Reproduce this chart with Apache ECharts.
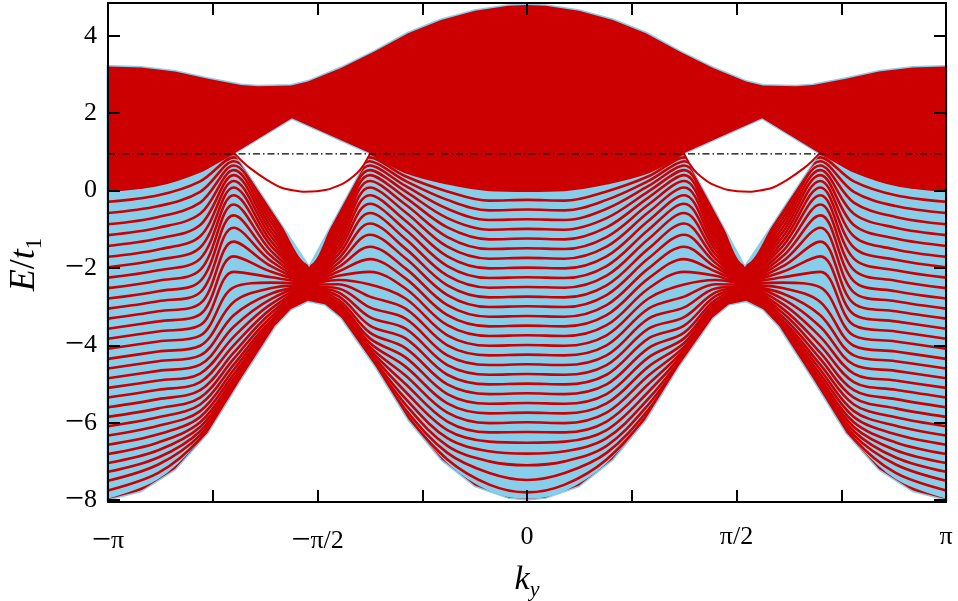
<!DOCTYPE html>
<html>
<head>
<meta charset="utf-8">
<script src="https://cdn.jsdelivr.net/npm/echarts@6/dist/echarts.min.js"></script>
<style>
  html, body { margin: 0; padding: 0; background: #fff; }
  #chart { width: 958px; height: 601px; }
</style>
</head>
<body>
<div id="chart"></div>
<script>
const RED = '#cc0000'
const SKY = '#87ceeb'
const FONT = 'Liberation Serif'

// axes (k_y in units of pi)
const xTickValues = [-1, -0.75, -0.5, -0.25, 0, 0.25, 0.5, 0.75, 1]
const xTickLabels = ['−π', '', '−π/2', '', '0', '', 'π/2', '', 'π']
const yTickValues = [-8, -6, -4, -2, 0, 2, 4]
const yMin = -8.05
const yMax = 4.85
const muLevel = 0.95

const topEdgeK = [-1, -0.921, -0.84, -0.761, -0.683, -0.642, -0.563, -0.523, -0.444, -0.363, -0.284, -0.205, -0.124, -0.045, 0]
const topEdgeE = [3.21, 3.18, 3.08, 2.89, 2.73, 2.70, 2.72, 2.82, 3.17, 3.60, 4.07, 4.41, 4.65, 4.78, 4.80]

const bottomEdgeK = [-1, -0.921, -0.84, -0.761, -0.683, -0.601, -0.563, -0.523, -0.482, -0.444, -0.363, -0.284, -0.205, -0.124, -0.045, 0]
const bottomEdgeE = [-8.0, -7.78, -7.22, -6.27, -4.9, -3.52, -3.08, -2.87, -2.96, -3.30, -4.55, -5.93, -6.96, -7.65, -7.95, -8.0]

// lower edge of the upper (solid red) band
const upperFloorK = [-1, -0.92, -0.833, -0.76, -0.697, -0.561, -0.375, -0.35, -0.311, -0.24, -0.17, -0.1, 0]
const upperFloorE = [0, 0.05, 0.28, 0.58, 0.95, 1.85, 0.95, 0.76, 0.55, 0.32, 0.14, 0.03, 0]

// white gap around the Dirac points
const gapK = [-0.697, -0.561, -0.375, -0.52]
const gapE = [0.95, 1.85, 0.95, -1.95]

// edge state inside the gap
const edgeStateK = [-0.697, -0.68, -0.661, -0.621, -0.582, -0.53, -0.478, -0.438, -0.406, -0.39, -0.375]
const edgeStateE = [0.95, 0.76, 0.58, 0.28, 0.06, -0.03, 0.02, 0.19, 0.45, 0.66, 0.95]

// subbands of the lower band: energy of each line at these k_y
const lineK = [-1, -0.88, -0.78, -0.70, -0.61, -0.52, -0.45, -0.375, -0.29, -0.19, -0.09, 0]
const levelsA = [0.00, -0.29, -0.58, -0.87, -1.15, -1.43, -1.71, -1.98, -2.25, -2.52, -2.79, -3.05, -3.31, -3.57, -3.83, -4.09, -4.35, -4.60, -4.85, -5.10, -5.35, -5.60, -5.85, -6.09, -6.33, -6.57, -6.81, -7.04, -7.27, -7.50, -7.75, -8.00]
const levelsB = [0.15, -0.12, -0.40, -0.68, -0.96, -1.24, -1.52, -1.79, -2.06, -2.33, -2.60, -2.86, -3.12, -3.38, -3.64, -3.90, -4.16, -4.41, -4.66, -4.91, -5.15, -5.39, -5.63, -5.86, -6.08, -6.30, -6.51, -6.71, -6.90, -7.08, -7.30, -7.50]
const levelsC = [0.50, 0.24, -0.03, -0.31, -0.60, -0.89, -1.18, -1.47, -1.76, -2.05, -2.34, -2.63, -2.92, -3.20, -3.48, -3.75, -4.01, -4.26, -4.50, -4.73, -4.95, -5.16, -5.35, -5.53, -5.70, -5.85, -5.99, -6.11, -6.22, -6.32, -6.41, -6.50]
const levelsD = [0.95, 0.86, 0.76, 0.65, 0.53, 0.40, 0.25, 0.08, -0.12, -0.36, -0.64, -0.96, -1.32, -1.70, -2.10, -2.50, -2.88, -3.22, -3.52, -3.78, -4.00, -4.19, -4.35, -4.50, -4.63, -4.75, -4.86, -4.95, -5.03, -5.10, -5.15, -5.20]
const levelsE = [-0.48, -0.60, -0.72, -0.84, -0.96, -1.08, -1.20, -1.32, -1.44, -1.57, -1.70, -1.83, -1.96, -2.10, -2.24, -2.38, -2.52, -2.66, -2.80, -2.93, -3.05, -3.16, -3.26, -3.35, -3.43, -3.50, -3.55, -3.59, -3.62, -3.64, -3.66, -3.67]
const levelsF = [-1.95, -1.98, -2.01, -2.04, -2.07, -2.10, -2.13, -2.16, -2.19, -2.22, -2.25, -2.28, -2.31, -2.34, -2.37, -2.40, -2.42, -2.45, -2.48, -2.51, -2.54, -2.57, -2.60, -2.63, -2.66, -2.69, -2.72, -2.75, -2.78, -2.81, -2.84, -2.87]
const levelsG = [-0.55, -0.66, -0.77, -0.88, -0.99, -1.10, -1.21, -1.32, -1.43, -1.54, -1.65, -1.76, -1.87, -1.98, -2.09, -2.20, -2.31, -2.42, -2.53, -2.63, -2.73, -2.82, -2.90, -2.97, -3.03, -3.08, -3.12, -3.16, -3.19, -3.21, -3.23, -3.25]
const levelsH = [0.95, 0.86, 0.76, 0.65, 0.53, 0.40, 0.25, 0.08, -0.12, -0.34, -0.58, -0.85, -1.14, -1.45, -1.77, -2.10, -2.43, -2.74, -3.02, -3.27, -3.49, -3.67, -3.82, -3.94, -4.04, -4.12, -4.19, -4.25, -4.30, -4.33, -4.35, -4.37]
const levelsI = [0.48, 0.37, 0.25, 0.12, -0.02, -0.18, -0.36, -0.56, -0.78, -1.01, -1.25, -1.50, -1.75, -2.01, -2.27, -2.53, -2.79, -3.05, -3.31, -3.57, -3.82, -4.07, -4.31, -4.55, -4.78, -5.00, -5.20, -5.38, -5.53, -5.66, -5.76, -5.83]
const levelsJ = [0.19, -0.02, -0.24, -0.47, -0.71, -0.95, -1.20, -1.45, -1.70, -1.95, -2.20, -2.45, -2.70, -2.96, -3.22, -3.48, -3.74, -4.00, -4.26, -4.51, -4.76, -5.01, -5.26, -5.50, -5.74, -5.97, -6.19, -6.40, -6.60, -6.78, -6.95, -7.09]
const levelsK = [0.02, -0.26, -0.51, -0.76, -1.01, -1.26, -1.51, -1.76, -2.01, -2.26, -2.51, -2.76, -3.01, -3.26, -3.51, -3.76, -4.01, -4.26, -4.51, -4.76, -5.01, -5.26, -5.51, -5.76, -6.01, -6.25, -6.49, -6.74, -7.00, -7.30, -7.60, -7.80]
const levelsL = [0.00, -0.24, -0.49, -0.74, -0.99, -1.24, -1.49, -1.74, -1.99, -2.24, -2.49, -2.74, -2.99, -3.24, -3.49, -3.74, -3.99, -4.24, -4.49, -4.74, -4.99, -5.24, -5.49, -5.74, -5.99, -6.24, -6.52, -6.80, -7.10, -7.48, -7.80, -8.00]
const levelColumns = [levelsA, levelsB, levelsC, levelsD, levelsE, levelsF, levelsG, levelsH, levelsI, levelsJ, levelsK, levelsL]

function pair(ks, es) {
  return ks.map((k, i) => [k, es[i]])
}

// left half (k from -1 to 0) plus its mirror image
function wholeCurve(ks, es) {
  const left = pair(ks, es)
  const right = left.slice().reverse().filter((p) => p[0] !== 0).map((p) => [-p[0], p[1]])
  return left.concat(right)
}

function flipK(pts) {
  return pts.map((p) => [-p[0], p[1]])
}

function shapeSeries(kind, points, style, z) {
  return {
    type: 'custom',
    z,
    silent: true,
    data: points,
    encode: { x: 0, y: 1 },
    renderItem(params, api) {
      if (params.dataIndex !== 0) return null
      return {
        type: kind,
        shape: { points: points.map((p) => api.coord(p)) },
        style,
      }
    },
  }
}

const topEdge = wholeCurve(topEdgeK, topEdgeE)
const bottomEdge = wholeCurve(bottomEdgeK, bottomEdgeE)
const upperFloor = wholeCurve(upperFloorK, upperFloorE)
const gapLeft = pair(gapK, gapE)
const edgeLeft = pair(edgeStateK, edgeStateE)

const series = []
series.push(shapeSeries('polygon', topEdge.concat(bottomEdge.slice().reverse()),
  { fill: SKY, stroke: SKY, lineWidth: 3 }, 1))
series.push(shapeSeries('polygon', topEdge.concat(upperFloor.slice().reverse()),
  { fill: RED }, 2))

for (let n = 0; n < levelsL.length; n++) {
  series.push({
    type: 'line',
    z: 3,
    silent: true,
    showSymbol: false,
    smooth: 0.35,
    data: wholeCurve(lineK, levelColumns.map((col) => col[n])),
    lineStyle: { color: RED, width: 2.6 },
  })
}

series.push(shapeSeries('polygon', bottomEdge.concat([[1, yMin], [-1, yMin]]),
  { fill: '#fff' }, 4))
series.push(shapeSeries('polyline', bottomEdge, { fill: null, stroke: SKY, lineWidth: 1.5 }, 5))
series.push(shapeSeries('polygon', gapLeft, { fill: '#fff', stroke: SKY, lineWidth: 1.2 }, 5))
series.push(shapeSeries('polygon', flipK(gapLeft), { fill: '#fff', stroke: SKY, lineWidth: 1.2 }, 5))

;[edgeLeft, flipK(edgeLeft).reverse()].forEach((pts) => {
  series.push({
    type: 'line',
    z: 6,
    silent: true,
    showSymbol: false,
    smooth: 0.2,
    data: pts,
    lineStyle: { color: RED, width: 2 },
  })
})

series.push({
  type: 'line',
  z: 7,
  silent: true,
  showSymbol: false,
  data: [[-1, muLevel], [1, muLevel]],
  lineStyle: { color: '#000', width: 1.3, type: [7, 3, 1.5, 3] },
})

const frameLine = { show: true, onZero: false, lineStyle: { color: '#000', width: 2 } }
const tickStyle = { show: true, inside: true, length: 12, lineStyle: { color: '#000', width: 2 } }
const labelFont = {
  fontFamily: FONT,
  fontSize: 26,
  color: '#000',
  rich: { m: { fontFamily: FONT, fontSize: 34, color: '#000' } },
}

// wide math minus, as in the original labels
function wideMinus(s) {
  return s.startsWith('−') ? '{m|−}' + s.slice(1) : s
}

const chart = echarts.init(document.getElementById('chart'), null, { renderer: 'canvas' })
chart.setOption({
  animation: false,
  backgroundColor: '#fff',
  grid: { left: 108, right: 12, top: 3, bottom: 99, containLabel: false, outerBoundsMode: 'none' },
  xAxis: [
    {
      type: 'value',
      min: -1,
      max: 1,
      z: 20,
      axisLine: frameLine,
      axisTick: { ...tickStyle, customValues: xTickValues },
      axisLabel: {
        ...labelFont,
        margin: 22,
        customValues: xTickValues,
        formatter: (v) => wideMinus(xTickLabels[xTickValues.indexOf(v)] ?? ''),
      },
      splitLine: { show: false },
      name: '{it|k}{sub|y}',
      nameLocation: 'middle',
      nameGap: 48,
      nameTextStyle: {
        fontFamily: FONT,
        fontSize: 34,
        color: '#000',
        rich: {
          it: { fontFamily: FONT, fontSize: 34, fontStyle: 'italic', color: '#000' },
          sub: { fontFamily: FONT, fontSize: 22, fontStyle: 'italic', color: '#000', padding: [20, 0, 0, 0] },
        },
      },
    },
    {
      type: 'value',
      position: 'top',
      min: -1,
      max: 1,
      z: 20,
      axisLine: frameLine,
      axisTick: { ...tickStyle, customValues: xTickValues },
      axisLabel: { show: false },
      splitLine: { show: false },
    },
  ],
  yAxis: [
    {
      type: 'value',
      min: yMin,
      max: yMax,
      z: 20,
      axisLine: frameLine,
      axisTick: { ...tickStyle, customValues: yTickValues },
      axisLabel: {
        ...labelFont,
        margin: 11,
        customValues: yTickValues,
        formatter: (v) => wideMinus(v < 0 ? '−' + Math.abs(v) : String(v)),
      },
      splitLine: { show: false },
      name: '{it|E}/{it|t}{sub|1}',
      nameLocation: 'middle',
      nameRotate: 90,
      nameGap: 62,
      nameTextStyle: {
        fontFamily: FONT,
        fontSize: 36,
        color: '#000',
        padding: [0, 24, 0, 0],
        rich: {
          it: { fontFamily: FONT, fontSize: 36, fontStyle: 'italic', color: '#000' },
          sub: { fontFamily: FONT, fontSize: 23, color: '#000', padding: [20, 0, 0, 0] },
        },
      },
    },
    {
      type: 'value',
      position: 'right',
      min: yMin,
      max: yMax,
      z: 20,
      axisLine: frameLine,
      axisTick: { ...tickStyle, customValues: yTickValues },
      axisLabel: { show: false },
      splitLine: { show: false },
    },
  ],
  series,
})

window.addEventListener('resize', () => chart.resize())
</script>
</body>
</html>
